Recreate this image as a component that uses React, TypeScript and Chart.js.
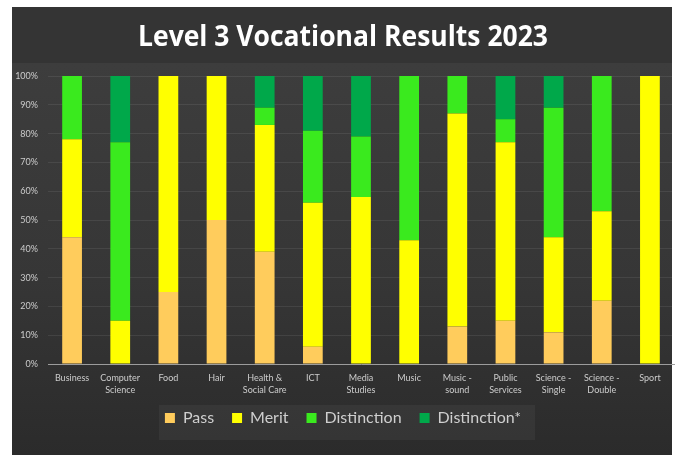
import React, { useEffect, useRef } from "react";
import { Chart, registerables } from "chart.js";

Chart.register(...registerables);

const categories: (string | string[])[] = [
  "Business",
  ["Computer", "Science"],
  "Food",
  "Hair",
  ["Health &", "Social Care"],
  "ICT",
  ["Media", "Studies"],
  "Music",
  ["Music -", "sound"],
  ["Public", "Services"],
  ["Science -", "Single"],
  ["Science -", "Double"],
  "Sport",
];

const passValues = [44, 0, 25, 50, 39, 6, 0, 0, 13, 15, 11, 22, 0];
const meritValues = [34, 15, 75, 50, 44, 50, 58, 43, 74, 62, 33, 31, 100];
const distinctionValues = [22, 62, 0, 0, 6, 25, 21, 57, 13, 8, 45, 47, 0];
const distinctionStarValues = [0, 23, 0, 0, 11, 19, 21, 0, 0, 15, 11, 0, 0];

const seriesNames = ["Pass", "Merit", "Distinction", "Distinction*"];
const seriesColors = ["#FFCC5C", "#FFFF00", "#3AEA1E", "#00A84A"];

const yTicks = [0, 10, 20, 30, 40, 50, 60, 70, 80, 90, 100];
const titleText = "Level 3 Vocational Results 2023";

const W = 678;
const H = 455;

const backgroundPlugin = {
  id: "panelBackground",
  beforeDraw(chart: any) {
    const ctx = chart.ctx as CanvasRenderingContext2D;
    ctx.save();
    ctx.fillStyle = "#ffffff";
    ctx.fillRect(0, 0, W, H);
    const px = 12, py = 7, pw = 660, ph = H - py;
    const grad = ctx.createLinearGradient(0, 63, 0, H);
    grad.addColorStop(0, "#3d3d3d");
    grad.addColorStop(0.55, "#363636");
    grad.addColorStop(1, "#2b2b2b");
    ctx.fillStyle = grad;
    ctx.fillRect(px, py, pw, ph);
    ctx.fillStyle = "#343434";
    ctx.fillRect(px, py, pw, 56);
    // legend band
    const lg = chart.legend;
    if (lg && lg.legendHitBoxes && lg.legendHitBoxes.length) {
      const boxes = lg.legendHitBoxes;
      const l = boxes[0].left - 6;
      const r = boxes[boxes.length - 1].left + boxes[boxes.length - 1].width + 14;
      ctx.fillStyle = "rgba(255,255,255,0.045)";
      ctx.fillRect(l, 405, r - l, 35);
    }
    // title
    ctx.fillStyle = "#ffffff";
    ctx.font = 'bold 29px "Open Sans"';
    ctx.textBaseline = "alphabetic";
    ctx.textAlign = "left";
    const w = ctx.measureText(titleText).width;
    const target = 410;
    const sx = target / w;
    ctx.translate(343 - target / 2, 46);
    ctx.scale(sx, 1);
    ctx.fillText(titleText, 0, 0);
    ctx.restore();
  },
};

export default function App() {
  const ref = useRef<HTMLCanvasElement | null>(null);

  useEffect(() => {
    if (!ref.current) return;
    const values = [passValues, meritValues, distinctionValues, distinctionStarValues];
    const chart = new Chart(ref.current, {
      type: "bar",
      data: {
        labels: categories,
        datasets: values.map((v, i) => ({
          label: seriesNames[i],
          data: v,
          backgroundColor: seriesColors[i],
          borderWidth: 0,
          barPercentage: 0.41,
          categoryPercentage: 1,
        })),
      },
      options: {
        animation: false,
        responsive: false,
        maintainAspectRatio: false,
        layout: { padding: { left: 12, right: 4, top: 76, bottom: 19 } },
        plugins: {
          title: { display: false },
          tooltip: { enabled: false },
          legend: {
            display: true,
            position: "bottom",
            labels: {
              boxWidth: 10,
              boxHeight: 10,
              padding: 18,
              color: "#cfcfcf",
              font: { family: "Lato", size: 16 },
            },
          },
        },
        scales: {
          x: {
            stacked: true,
            grid: { display: false, drawTicks: false },
            border: { display: true, color: "#9c9c9c", width: 1 },
            ticks: {
              color: "#cccccc",
              font: { family: "Lato", size: 9, lineHeight: 1.35 },
              padding: 8,
              maxRotation: 0,
              autoSkip: false,
            },
            afterFit(scale: any) {
              scale.height = 28;
              scale._computeLabelArea = () => undefined;
            },
          },
          y: {
            stacked: true,
            min: 0,
            max: 100,
            afterBuildTicks(scale: any) {
              scale.ticks = yTicks.map((v) => ({ value: v }));
            },
            grid: { color: "rgba(255,255,255,0.08)", drawTicks: false },
            border: { display: false },
            ticks: {
              color: "#cccccc",
              font: { family: "Lato", size: 9 },
              padding: 10,
              callback: (v: any) => v + "%",
            },
            afterFit(scale: any) {
              scale.width = 36;
            },
          },
        },
      },
      plugins: [backgroundPlugin],
    });
    return () => chart.destroy();
  }, []);

  return (
    <div style={{ position: "absolute", left: 0, top: 0, width: W, height: H }}>
      <canvas ref={ref} width={W} height={H} style={{ width: W, height: H, display: "block" }} />
    </div>
  );
}
